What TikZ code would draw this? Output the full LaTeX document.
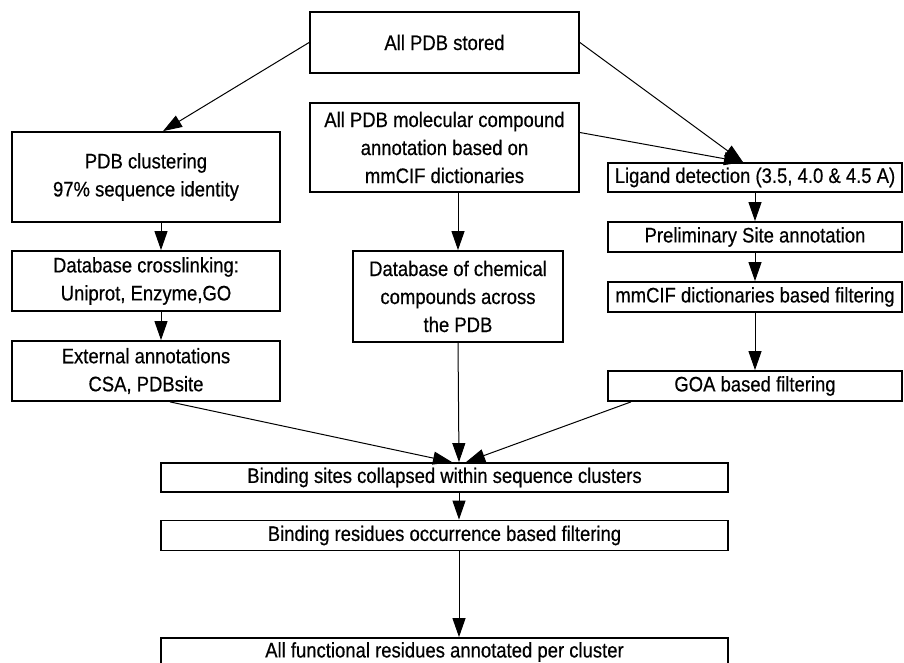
\documentclass[tikz,border=0pt]{standalone}
\usepackage{fontspec}
\setmainfont[FakeStretch=0.88]{Liberation Sans}
\newfontfamily\boxfont[FakeStretch=0.88,FakeBold=0.5]{Liberation Sans}
\usetikzlibrary{arrows.meta}

\begin{document}
\begin{tikzpicture}[x=1pt,y=-1pt,
     box/.style={draw=black,line width=1.8pt,align=center,inner sep=0pt,
                 font=\boxfont\fontsize{21}{28}\selectfont},
     flow/.style={line width=1pt,-{Triangle[length=19pt,width=13pt]}}]
     \useasboundingbox (0,0) rectangle (904,663);

     \def\leftx{146}
     \def\midx{444.5}
     \def\rightx{755}

     % top of the tree
     \node[box,minimum width=269pt,minimum height=61pt] (stored) at (\midx,42.5) {All PDB stored};

     % left column
     \node[box,minimum width=268pt,minimum height=90pt] (cluster) at (\leftx,177) {PDB clustering\\97\% sequence identity};
     \node[box,minimum width=268pt,minimum height=60pt] (crosslink) at (\leftx,281) {Database crosslinking:\\Uniprot, Enzyme,GO};
     \node[box,minimum width=268pt,minimum height=60pt] (external) at (\leftx,371) {External annotations\\CSA, PDBsite};

     % middle column
     \node[box,minimum width=269pt,minimum height=89pt] (molecular) at (\midx,147.5) {All PDB molecular compound\\annotation based on\\mmCIF dictionaries};
     \node[box,minimum width=210pt,minimum height=91pt] (chemical) at (458,296.5) {Database of chemical\\compounds across\\the PDB};

     % right column
     \node[box,minimum width=294pt,minimum height=29pt] (ligand) at (\rightx,177.5) {Ligand detection (3.5, 4.0 \& 4.5 A)};
     \node[box,minimum width=294pt,minimum height=30pt] (prelim) at (\rightx,237) {Preliminary Site annotation};
     \node[box,minimum width=294pt,minimum height=30pt] (mmcif) at (\rightx,297) {mmCIF dictionaries based filtering};
     \node[box,minimum width=294pt,minimum height=30pt] (goa) at (\rightx,386) {GOA based filtering};

     % bottom
     \node[box,minimum width=567pt,minimum height=29pt] (sites) at (\midx,477.5) {Binding sites collapsed within sequence clusters};
     \node[box,minimum width=567pt,minimum height=30pt] (residues) at (\midx,535.5) {Binding residues occurrence based filtering};
     \node[box,minimum width=567pt,minimum height=28pt] (functional) at (\midx,652) {All functional residues annotated per cluster};

     \draw[flow] (stored.west) -- ([xshift=17pt]cluster.north);
     \draw[flow] (stored.east) -- ([xshift=-12pt]ligand.north);
     \draw[flow] ([yshift=15pt]molecular.east) -- ([xshift=-12pt]ligand.north);

     \draw[flow] ([xshift=15pt]cluster.south) -- ([xshift=15pt]crosslink.north);
     \draw[flow] ([xshift=15pt]crosslink.south) -- ([xshift=15pt]external.north);

     \draw[flow] (chemical.north |- molecular.south) -- (chemical.north);

     \draw[flow] (ligand.south) -- (prelim.north);
     \draw[flow] (prelim.south) -- (mmcif.north);
     \draw[flow] (mmcif.south) -- (goa.north);

     \draw[flow] ([xshift=24pt]external.south) -- ([xshift=7.5pt]sites.north);
     \draw[flow] (chemical.south) -- ([xshift=14.5pt]sites.north);
     \draw[flow] ([xshift=-124pt]goa.south) -- ([xshift=21.5pt]sites.north);

     \draw[flow] ([xshift=14.5pt]sites.south) -- ([xshift=14.5pt]residues.north);
     \draw[flow] ([xshift=14.5pt]residues.south) -- ([xshift=14.5pt]functional.north);
\end{tikzpicture}
\end{document}
